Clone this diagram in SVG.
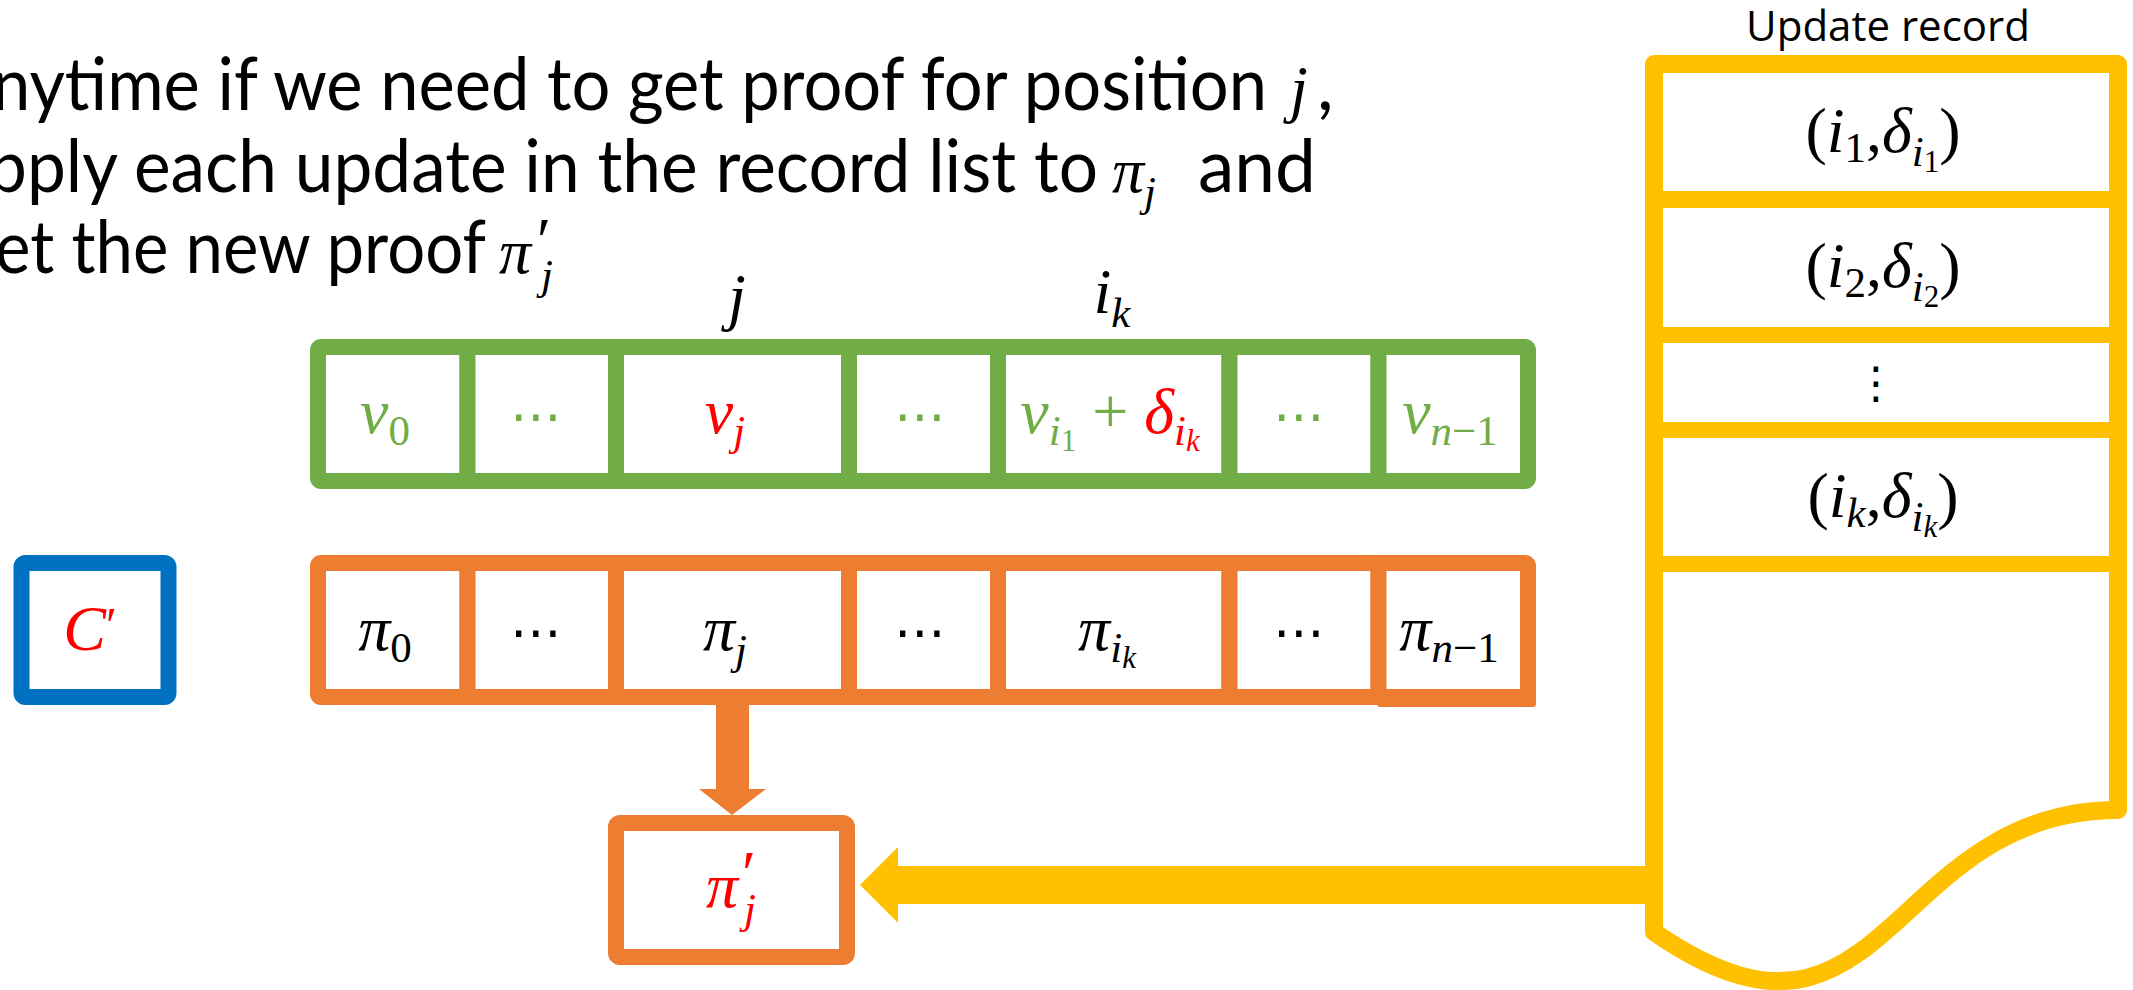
<svg xmlns="http://www.w3.org/2000/svg" width="2133" height="990" viewBox="0 0 2133 990">
<style>
.bg{fill:#fff}
.g{fill:#fff;stroke:#70AD47;stroke-width:16}
.o{fill:#fff;stroke:#ED7D31;stroke-width:16}
.b{fill:#fff;stroke:#0070C0;stroke-width:16}
.body{font-family:Lato,"Liberation Sans",sans-serif;font-size:73px;fill:#000}
.m{font-family:"Liberation Serif","DejaVu Serif",serif;font-style:italic;font-size:64px}
.up{font-style:normal}
.s{font-size:43px}
.ss{font-size:31px}
.dots{font-family:"DejaVu Sans",sans-serif;font-size:52px}
.green{fill:#70AD47}
.red{fill:#FF0000}
.blk{fill:#000}
.rec{font-family:"Liberation Serif","DejaVu Serif",serif;font-style:italic;font-size:64px;fill:#000}
</style>
<rect class="bg" x="0" y="0" width="2133" height="990"/>

<g id="caption">
<text class="body" x="-8" y="110" textLength="1275" lengthAdjust="spacingAndGlyphs">nytime if we need to get proof for position</text>
<text class="m blk" x="1290" y="110" font-size="68">j</text>
<text class="body" x="1317" y="110">,</text>
<text class="body" x="-12" y="192" textLength="1110" lengthAdjust="spacingAndGlyphs">pply each update in the record list to</text>
<text class="m blk" x="1112" y="192" font-size="68">π<tspan class="s" dy="14">j</tspan></text>
<text class="body" x="1198" y="192">and</text>
<text class="body" x="-5" y="273" textLength="491" lengthAdjust="spacingAndGlyphs">et the new proof</text>
<text class="m blk" x="499" y="273" font-size="68">π</text>
<text class="m blk up" x="537" y="262" font-size="48">′</text>
<text class="m blk s" x="541" y="289">j</text>
</g>

<g id="label-j"><text class="m blk" x="737" y="318" text-anchor="middle" font-size="68">j</text></g>
<g id="label-ik"><text class="m blk" x="1112" y="313" text-anchor="middle" font-size="68">i<tspan class="s" dy="14">k</tspan></text></g>

<g id="values">
<g id="v0"><rect class="g" x="318" y="347" width="149.5" height="134" rx="3"/><text class="m green" x="385" y="433" text-anchor="middle">v<tspan class="s up" dy="12">0</tspan></text></g>
<g id="v-dots1"><rect class="g" x="467.5" y="347" width="148.5" height="134"/><text class="dots green" x="536" y="434" text-anchor="middle">⋯</text></g>
<g id="vj"><rect class="g" x="616" y="347" width="233" height="134"/><text class="m red" x="725" y="433" text-anchor="middle">v<tspan class="s" dy="12">j</tspan></text></g>
<g id="v-dots2"><rect class="g" x="849" y="347" width="149" height="134"/><text class="dots green" x="920" y="434" text-anchor="middle">⋯</text></g>
<g id="vik"><rect class="g" x="998" y="347" width="231.5" height="134"/><text class="m" x="1110" y="433" text-anchor="middle"><tspan class="green">v</tspan><tspan class="green s" dy="12">i</tspan><tspan class="green ss up" dy="6">1</tspan><tspan class="green up" dy="-18"> + </tspan><tspan class="red">δ</tspan><tspan class="red s" dy="12">i</tspan><tspan class="red ss" dy="6">k</tspan></text></g>
<g id="v-dots3"><rect class="g" x="1229.5" y="347" width="149" height="134"/><text class="dots green" x="1299" y="434" text-anchor="middle">⋯</text></g>
<g id="vn1"><rect class="g" x="1378.5" y="347" width="149.5" height="134" rx="3"/><text class="m green" x="1450" y="433" text-anchor="middle">v<tspan class="s" dy="12">n</tspan><tspan class="s up">−1</tspan></text></g>
</g>

<g id="proofs">
<g id="p0"><rect class="o" x="318" y="563" width="149.5" height="134" rx="3"/><text class="m blk" x="385" y="650" text-anchor="middle">π<tspan class="s up" dy="12">0</tspan></text></g>
<g id="p-dots1"><rect class="o" x="467.5" y="563" width="148.5" height="134"/><text class="dots blk" x="536" y="650" text-anchor="middle">⋯</text></g>
<g id="pj"><rect class="o" x="616" y="563" width="233" height="134"/><text class="m blk" x="725" y="650" text-anchor="middle">π<tspan class="s" dy="14">j</tspan></text></g>
<g id="p-dots2"><rect class="o" x="849" y="563" width="149" height="134"/><text class="dots blk" x="920" y="650" text-anchor="middle">⋯</text></g>
<g id="pik"><rect class="o" x="998" y="563" width="231.5" height="134"/><text class="m blk" x="1107" y="650" text-anchor="middle">π<tspan class="s" dy="12">i</tspan><tspan class="ss" dy="6">k</tspan></text></g>
<g id="p-dots3"><rect class="o" x="1229.5" y="563" width="149" height="134"/><text class="dots blk" x="1299" y="650" text-anchor="middle">⋯</text></g>
<g id="pn1"><rect x="1377" y="689" width="159" height="18" fill="#ED7D31" rx="3"/><rect class="o" x="1378.5" y="563" width="149.5" height="134" rx="3"/><text class="m blk" x="1449" y="650" text-anchor="middle">π<tspan class="s" dy="12">n</tspan><tspan class="s up">−1</tspan></text></g>
</g>

<g id="commitment"><rect class="b" x="21.5" y="563" width="147" height="134" rx="4"/><text class="m red" x="90" y="650" text-anchor="middle">C<tspan class="up" font-size="50" dy="-8">′</tspan></text></g>

<g id="new-proof"><rect class="o" x="616" y="823" width="231" height="134" rx="4"/><text class="m red" x="722" y="907" text-anchor="middle">π</text><text class="m red up" x="742" y="895" font-size="48">′</text><text class="m red s" x="744" y="923">j</text></g>

<g id="update-record">
<text x="1888" y="41" text-anchor="middle" font-family="'Open Sans','Liberation Sans',sans-serif" font-size="42" fill="#000">Update record</text>
<path d="M1654,64 H2118 V810 C1886,810 1886,1092 1654,932 Z" fill="#fff" stroke="#FFC000" stroke-width="18" stroke-linejoin="round"/>
<g fill="#FFC000">
<rect x="1654" y="191" width="464" height="17"/>
<rect x="1654" y="327" width="464" height="16"/>
<rect x="1654" y="422" width="464" height="16"/>
<rect x="1654" y="556" width="464" height="16"/>
</g>
<text class="rec" x="1883" y="152" text-anchor="middle"><tspan class="up">(</tspan>i<tspan class="up s" dy="10">1</tspan><tspan class="up" dy="-10">,</tspan>δ<tspan class="s" dy="14">i</tspan><tspan class="ss up" dy="6">1</tspan><tspan class="up" dy="-20">)</tspan></text>
<text class="rec" x="1883" y="287" text-anchor="middle"><tspan class="up">(</tspan>i<tspan class="up s" dy="10">2</tspan><tspan class="up" dy="-10">,</tspan>δ<tspan class="s" dy="14">i</tspan><tspan class="ss up" dy="6">2</tspan><tspan class="up" dy="-20">)</tspan></text>
<text x="1876" y="398" text-anchor="middle" font-family="'DejaVu Sans',sans-serif" font-size="44" fill="#000">⋮</text>
<text class="rec" x="1883" y="517" text-anchor="middle"><tspan class="up">(</tspan>i<tspan class="s" dy="10">k</tspan><tspan class="up" dy="-10">,</tspan>δ<tspan class="s" dy="14">i</tspan><tspan class="ss" dy="6">k</tspan><tspan class="up" dy="-20">)</tspan></text>
</g>

<g id="connectors">
<path d="M716,705 V789 H699 L732,815 L766,789 H749 V705 Z" fill="#ED7D31"/>
<path d="M1646,866 H898 V847 L860,885 L898,923 V904 H1646 Z" fill="#FFC000"/>
</g>
</svg>
